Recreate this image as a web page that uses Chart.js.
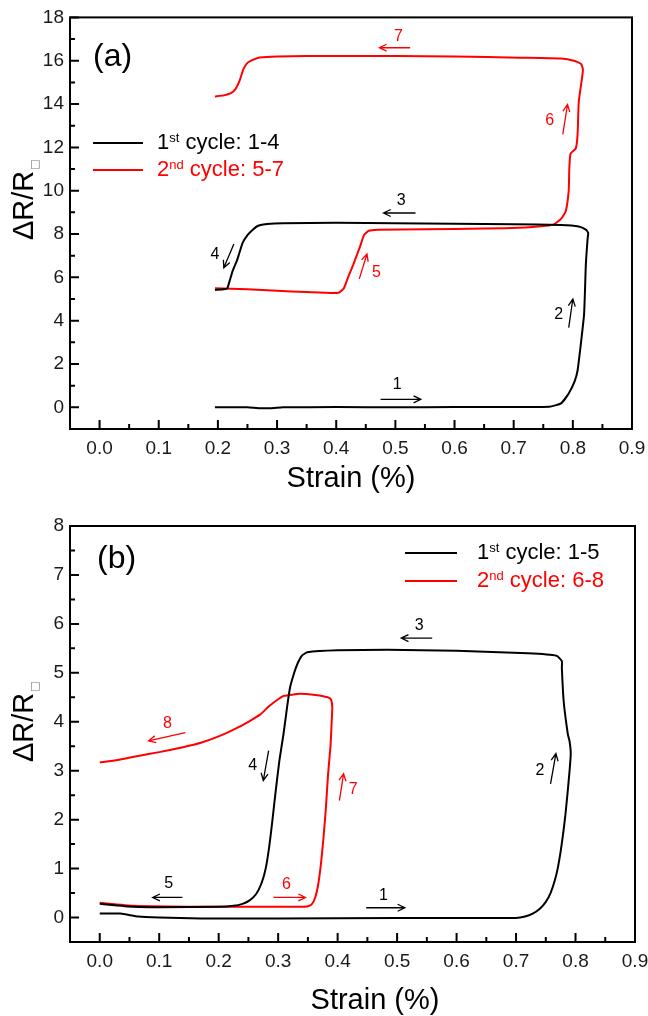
<!DOCTYPE html>
<html>
<head>
<meta charset="utf-8">
<script src="https://cdn.jsdelivr.net/npm/chart.js@4.4.1/dist/chart.umd.min.js"></script>
<style>
  html, body { margin: 0; padding: 0; background: #fff; width: 648px; height: 1016px; overflow: hidden; }
  canvas { position: absolute; left: 0; }
  #chartA { top: 0; }
  #chartB { top: 500px; }
</style>
</head>
<body>
<canvas id="chartA" width="660" height="500"></canvas>
<canvas id="chartB" width="660" height="516"></canvas>
<script>
/* =============================
   DATA - PANEL (a)
============================= */
const aCycle1Strain = [0.195, 0.25, 0.27, 0.29, 0.31, 0.4, 0.5, 0.6, 0.7, 0.76,
  0.78, 0.793, 0.803, 0.808, 0.813, 0.819, 0.822, 0.825, 0.826, 0.822,
  0.81, 0.78, 0.7, 0.6, 0.5, 0.4, 0.31, 0.283, 0.268, 0.259,
  0.25, 0.242, 0.236, 0.232, 0.225, 0.22, 0.216, 0.21, 0.195];
const aCycle1Resist = [0, 0, -0.04, -0.04, 0, 0.01, 0, 0.01, 0.02, 0.03,
  0.18, 0.64, 1.2, 1.7, 2.8, 4.3, 6.6, 7.8, 8.05, 8.2,
  8.35, 8.42, 8.45, 8.48, 8.5, 8.52, 8.5, 8.46, 8.38, 8.2,
  7.95, 7.6, 7.1, 6.76, 6.3, 5.85, 5.5, 5.45, 5.42];

const aCycle2Strain = [0.195, 0.25, 0.3, 0.35, 0.39, 0.405, 0.413, 0.42, 0.429, 0.44,
  0.447, 0.455, 0.47, 0.55, 0.65, 0.72, 0.755, 0.768, 0.78, 0.788,
  0.793, 0.794, 0.796, 0.805, 0.808, 0.81, 0.816, 0.817, 0.814, 0.802,
  0.78, 0.71, 0.6, 0.5, 0.4, 0.3, 0.27, 0.26, 0.25, 0.243,
  0.237, 0.23, 0.222, 0.21, 0.195];
const aCycle2Resist = [5.5, 5.45, 5.38, 5.32, 5.28, 5.3, 5.5, 6.0, 6.6, 7.4,
  7.95, 8.15, 8.2, 8.22, 8.25, 8.3, 8.38, 8.45, 8.7, 9.05,
  10.0, 11.0, 11.7, 11.95, 12.6, 14.1, 15.3, 15.6, 15.85, 16.0,
  16.1, 16.14, 16.2, 16.22, 16.22, 16.2, 16.15, 16.05, 15.9, 15.6,
  15.1, 14.7, 14.5, 14.4, 14.35];

/* =============================
   DATA - PANEL (b)
============================= */
const bCycle1Strain = [0.0, 0.035, 0.065, 0.1, 0.17, 0.3, 0.5, 0.65, 0.7, 0.715,
  0.728, 0.74, 0.75, 0.758, 0.765, 0.77, 0.775, 0.779, 0.783, 0.787,
  0.79, 0.792, 0.79, 0.787, 0.78, 0.777, 0.777, 0.768, 0.72, 0.6,
  0.483, 0.4, 0.349, 0.34, 0.333, 0.327, 0.32, 0.315, 0.309, 0.302,
  0.296, 0.29, 0.285, 0.279, 0.272, 0.263, 0.252, 0.24, 0.225, 0.2,
  0.1, 0.057, 0.0];
const bCycle1Resist = [0.08, 0.08, 0.02, 0.0, -0.02, -0.02, -0.01, -0.01, -0.01, 0.02,
  0.08, 0.18, 0.32, 0.5, 0.75, 1.0, 1.35, 1.7, 2.1, 2.6,
  3.0, 3.35, 3.6, 3.75, 4.43, 5.1, 5.24, 5.35, 5.4, 5.45,
  5.47, 5.46, 5.42, 5.35, 5.2, 5.0, 4.7, 4.3, 3.75, 3.2,
  2.6, 1.95, 1.45, 1.0, 0.7, 0.48, 0.35, 0.28, 0.24, 0.22,
  0.21, 0.22, 0.28];

const bCycle2Strain = [0.0, 0.057, 0.17, 0.337, 0.35, 0.357, 0.362, 0.367, 0.372, 0.376,
  0.38, 0.384, 0.388, 0.39, 0.391, 0.389, 0.384, 0.376, 0.366, 0.337,
  0.31, 0.3, 0.285, 0.27, 0.25, 0.225, 0.2, 0.17, 0.14, 0.1,
  0.06, 0.03, 0.0];
const bCycle2Resist = [0.3, 0.24, 0.22, 0.22, 0.23, 0.28, 0.4, 0.65, 1.1, 1.6,
  2.2, 2.94, 3.5, 4.0, 4.3, 4.45, 4.5, 4.52, 4.54, 4.57,
  4.53, 4.46, 4.32, 4.15, 4.0, 3.84, 3.7, 3.57, 3.48, 3.38,
  3.29, 3.22, 3.17];

/* =============================
   TICKS & LABELS
============================= */
const xMajor = [0, 0.1, 0.2, 0.3, 0.4, 0.5, 0.6, 0.7, 0.8, 0.9];
const xMinor = [0.05, 0.15, 0.25, 0.35, 0.45, 0.55, 0.65, 0.75, 0.85];
const aYMajor = [0, 2, 4, 6, 8, 10, 12, 14, 16, 18];
const aYMinor = [1, 3, 5, 7, 9, 11, 13, 15, 17];
const bYMajor = [0, 1, 2, 3, 4, 5, 6, 7, 8];
const bYMinor = [0.5, 1.5, 2.5, 3.5, 4.5, 5.5, 6.5, 7.5];

const aLegendRest = [" cycle: 1-4", " cycle: 5-7"];
const bLegendRest = [" cycle: 1-5", " cycle: 6-8"];
const legendNum = ["1", "2"];
const legendSup = ["st", "nd"];

// step labels: text, strain, dR/R, arrow from -> to
const aNotes = [
  { t: "1", x: 0.503, y: 1.05, ax: [0.475, 0.37, 0.543, 0.37], red: false },
  { t: "2", x: 0.776, y: 4.28, ax: [0.793, 3.68, 0.800, 5.0], red: false },
  { t: "3", x: 0.510, y: 9.56, ax: [0.534, 8.97, 0.480, 8.97], red: false },
  { t: "4", x: 0.195, y: 7.03, ax: [0.227, 7.54, 0.210, 6.44], red: false },
  { t: "5", x: 0.468, y: 6.20, ax: [0.439, 5.93, 0.452, 7.08], red: true },
  { t: "6", x: 0.761, y: 13.24, ax: [0.783, 12.6, 0.791, 13.98], red: true },
  { t: "7", x: 0.505, y: 17.1, ax: [0.525, 16.6, 0.473, 16.6], red: true }
];
const bNotes = [
  { t: "1", x: 0.477, y: 0.45, ax: [0.448, 0.2, 0.513, 0.2], red: false },
  { t: "2", x: 0.740, y: 3.0, ax: [0.758, 2.73, 0.767, 3.35], red: false },
  { t: "3", x: 0.537, y: 5.96, ax: [0.559, 5.71, 0.507, 5.71], red: false },
  { t: "4", x: 0.257, y: 3.1, ax: [0.284, 3.41, 0.275, 2.8], red: false },
  { t: "5", x: 0.116, y: 0.69, ax: [0.139, 0.41, 0.089, 0.41], red: false },
  { t: "6", x: 0.314, y: 0.67, ax: [0.292, 0.41, 0.346, 0.41], red: true },
  { t: "7", x: 0.426, y: 2.61, ax: [0.403, 2.39, 0.410, 2.94], red: true },
  { t: "8", x: 0.114, y: 3.96, ax: [0.144, 3.78, 0.082, 3.61], red: true }
];

/* =============================
   STYLE
============================= */
const FONT = '"Liberation Sans", Arial, sans-serif';
const RED = "#ff0000";
const BLACK = "#000000";

const toPoints = (xs, ys) => xs.map((x, i) => ({ x, y: ys[i] }));
const isIn = (arr, v) => arr.some(m => Math.abs(m - v) < 1e-9);

function drawArrow(ctx, x1, y1, x2, y2, color) {
  const ang = Math.atan2(y2 - y1, x2 - x1);
  const h = 8;
  ctx.strokeStyle = color;
  ctx.lineWidth = 1.3;
  ctx.beginPath();
  ctx.moveTo(x1, y1);
  ctx.lineTo(x2, y2);
  ctx.moveTo(x2 - h * Math.cos(ang - 0.45), y2 - h * Math.sin(ang - 0.45));
  ctx.lineTo(x2, y2);
  ctx.lineTo(x2 - h * Math.cos(ang + 0.45), y2 - h * Math.sin(ang + 0.45));
  ctx.stroke();
}

/* =============================
   DECOR PLUGIN (frame, ticks, titles, legend, notes)
============================= */
function makeDecor(cfg) {
  return {
    id: "decor",
    afterDraw(chart) {
      const ctx = chart.ctx;
      const { left, right, top, bottom } = chart.chartArea;
      const px = v => chart.scales.x.getPixelForValue(v);
      const py = v => chart.scales.y.getPixelForValue(v);

      ctx.save();
      ctx.strokeStyle = BLACK;
      ctx.lineWidth = 2;
      ctx.strokeRect(left, top, right - left, bottom - top);

      ctx.beginPath();
      xMajor.forEach(v => { ctx.moveTo(px(v), bottom); ctx.lineTo(px(v), bottom - 9); });
      xMinor.forEach(v => { ctx.moveTo(px(v), bottom); ctx.lineTo(px(v), bottom - 5); });
      cfg.yMajor.forEach(v => { ctx.moveTo(left, py(v)); ctx.lineTo(left + 9, py(v)); });
      cfg.yMinor.forEach(v => { ctx.moveTo(left, py(v)); ctx.lineTo(left + 5, py(v)); });
      ctx.stroke();

      // panel tag
      ctx.fillStyle = BLACK;
      ctx.font = "32px " + FONT;
      ctx.textAlign = "left";
      ctx.textBaseline = "middle";
      ctx.fillText(cfg.tag.text, cfg.tag.x, cfg.tag.y);

      // x title
      ctx.font = "29px " + FONT;
      ctx.textAlign = "center";
      ctx.fillText("Strain (%)", cfg.xTitle.x, cfg.xTitle.y);

      // y title with small square subscript
      ctx.save();
      ctx.translate(cfg.yTitle.x, cfg.yTitle.y);
      ctx.rotate(-Math.PI / 2);
      ctx.textAlign = "left";
      ctx.textBaseline = "alphabetic";
      ctx.font = "29px " + FONT;
      ctx.fillText("\u0394R/R", 0, 0);
      const w = ctx.measureText("\u0394R/R").width;
      ctx.font = '11px "DejaVu Sans"';
      ctx.fillStyle = "#777";
      ctx.fillText("\u25A1", w + 1, 5);
      ctx.restore();

      // legend
      const lg = cfg.legend;
      [BLACK, RED].forEach((col, i) => {
        const y = lg.y[i];
        ctx.strokeStyle = col;
        ctx.lineWidth = 2;
        ctx.beginPath();
        ctx.moveTo(lg.x1, y);
        ctx.lineTo(lg.x2, y);
        ctx.stroke();
        ctx.fillStyle = col;
        ctx.textAlign = "left";
        ctx.textBaseline = "middle";
        ctx.font = "22px " + FONT;
        ctx.fillText(legendNum[i], lg.tx, y);
        let x = lg.tx + ctx.measureText(legendNum[i]).width;
        ctx.font = "13px " + FONT;
        ctx.textBaseline = "alphabetic";
        ctx.fillText(legendSup[i], x, y - 1);
        x += ctx.measureText(legendSup[i]).width;
        ctx.font = "22px " + FONT;
        ctx.textBaseline = "middle";
        ctx.fillText(cfg.legendRest[i], x, y);
      });

      // step numbers and arrows
      ctx.font = "16px " + FONT;
      ctx.textAlign = "center";
      ctx.textBaseline = "middle";
      cfg.notes.forEach(n => {
        const col = n.red ? RED : BLACK;
        ctx.fillStyle = col;
        ctx.fillText(n.t, px(n.x), py(n.y));
        drawArrow(ctx, px(n.ax[0]), py(n.ax[1]), px(n.ax[2]), py(n.ax[3]), col);
      });

      ctx.restore();
    }
  };
}

/* =============================
   CHART BUILDER
============================= */
function makeChart(id, cfg) {
  const yLabel = v => isIn(cfg.yMajor, v) ? String(Math.round(v)) : "";
  const xLabel = v => isIn(xMajor, v) ? v.toFixed(1) : "";

  return new Chart(document.getElementById(id), {
    type: "scatter",
    data: {
      datasets: [
        { data: cfg.cycle1, borderColor: BLACK },
        { data: cfg.cycle2, borderColor: RED }
      ].map(ds => Object.assign(ds, {
        showLine: true, borderWidth: 2, pointRadius: 0, tension: 0.15, fill: false
      }))
    },
    options: {
      responsive: false,
      devicePixelRatio: 1,
      animation: false,
      layout: { padding: cfg.padding },
      plugins: { legend: { display: false }, tooltip: { enabled: false } },
      scales: {
        x: {
          type: "linear", min: -0.05, max: 0.9,
          afterBuildTicks: s => { s.ticks = xMajor.concat(xMinor).sort((a, b) => a - b).map(v => ({ value: v })); },
          afterFit: s => { s.height = cfg.xHeight; },
          grid: { display: false, drawTicks: false },
          border: { display: false },
          ticks: { autoSkip: false, maxRotation: 0, padding: 8, color: "#1a1a1a", font: { family: FONT, size: 19 }, callback: xLabel }
        },
        y: {
          type: "linear", min: cfg.yMin, max: cfg.yMax,
          afterBuildTicks: s => { s.ticks = cfg.yMajor.concat(cfg.yMinor).sort((a, b) => a - b).map(v => ({ value: v })); },
          afterFit: s => { s.width = 70; },
          grid: { display: false, drawTicks: false },
          border: { display: false },
          ticks: { autoSkip: false, padding: 6, color: "#1a1a1a", font: { family: FONT, size: 19 }, callback: yLabel }
        }
      }
    },
    plugins: [makeDecor(cfg)]
  });
}

makeChart("chartA", {
  cycle1: toPoints(aCycle1Strain, aCycle1Resist),
  cycle2: toPoints(aCycle2Strain, aCycle2Resist),
  yMin: -1, yMax: 18, yMajor: aYMajor, yMinor: aYMinor,
  padding: { left: 0, top: 17, right: 28, bottom: 0 },
  xHeight: 71,
  tag: { text: "(a)", x: 93, y: 57 },
  xTitle: { x: 351, y: 479 },
  yTitle: { x: 33, y: 240 },
  legend: { x1: 93, x2: 143, y: [143, 170], tx: 157 },
  legendRest: aLegendRest,
  notes: aNotes
});

makeChart("chartB", {
  cycle1: toPoints(bCycle1Strain, bCycle1Resist),
  cycle2: toPoints(bCycle2Strain, bCycle2Resist),
  yMin: -0.5, yMax: 8, yMajor: bYMajor, yMinor: bYMinor,
  padding: { left: 0, top: 26, right: 25, bottom: 0 },
  xHeight: 74,
  tag: { text: "(b)", x: 97, y: 59 },
  xTitle: { x: 375, y: 501 },
  yTitle: { x: 33, y: 262 },
  legend: { x1: 405, x2: 457, y: [53, 81], tx: 477 },
  legendRest: bLegendRest,
  notes: bNotes
});
</script>
</body>
</html>
